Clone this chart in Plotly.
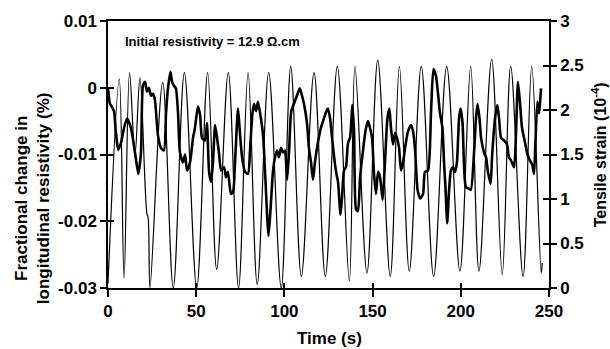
import plotly.graph_objects as go

# ---- data ----
# Thin line: tensile strain (10^-4), right axis
strain_time = [0.0, 6.4, 9.1, 12.2, 15.3, 18.1, 22.1, 22.7, 23.8, 31.0, 37.0, 43.3, 50.3,
               56.5, 61.6, 68.2, 74.0, 79.4, 84.6, 91.1, 98.2, 103.6, 109.6, 116.8, 123.2,
               130.0, 136.8, 140.0, 146.8, 152.9, 160.0, 165.2, 170.8, 177.6, 184.6, 192.0,
               199.5, 205.6, 210.3, 217.5, 223.5, 228.3, 235.3, 240.2, 245.6, 246.2]
strain_val = [0.05, 2.35, 0.11, 2.42, 1.5, 2.36, 0.83, 0.8, 0.0, 2.31, 0.0, 2.42, 0.0,
              2.42, 0.21, 2.42, 0.0, 2.42, 0.04, 2.42, 0.0, 2.49, 0.13, 2.42, 0.13,
              2.49, 0.08, 2.49, 0.17, 2.56, 0.13, 2.49, 0.19, 2.49, 0.13, 2.49,
              0.19, 2.49, 0.19, 2.57, 0.15, 2.49, 0.13, 2.49, 0.17, 0.28]

# Thick line: fractional change in longitudinal resistivity (%), left axis
res_time = [0.0, 1.1, 2.3, 3.4, 4.5, 5.8, 7.4, 9.1, 10.8, 13.0, 15.3, 17.2, 18.7, 19.8, 21.0,
            22.1, 23.2, 24.4, 25.5, 26.6, 28.3, 30.0, 31.7, 32.9, 34.0, 35.4, 36.3, 37.4,
            38.5, 39.7, 40.8, 42.5, 43.7, 44.8, 46.5, 48.2, 49.3, 51.0, 52.2, 53.3, 55.0,
            56.1, 57.3, 58.4, 59.5, 60.7, 61.8, 62.9, 64.1, 65.8, 66.9, 68.0, 69.7, 70.9,
            72.0, 73.7, 74.8, 76.0, 77.7, 79.4, 80.5, 81.9, 82.8, 83.9, 85.0, 86.7, 87.9,
            89.3, 91.0, 92.4, 93.5, 94.7, 95.8, 96.9, 98.1, 99.2, 100.3, 101.5, 102.6,
            103.9, 105.4, 107.1, 108.7, 110.0, 111.1, 112.8, 113.9, 115.1, 116.2, 117.3,
            119.0, 120.7, 122.4, 123.8, 124.7, 125.9, 127.6, 129.3, 130.4, 131.8, 132.7,
            133.8, 134.9, 136.1, 137.2, 138.6, 139.5, 140.6, 141.7, 142.9, 144.3, 145.1,
            146.3, 147.4, 148.5, 149.7, 150.8, 151.9, 153.1, 154.2, 155.7, 157.0, 158.4,
            159.5, 160.4, 161.6, 162.7, 163.8, 165.0, 166.1, 167.3, 168.4, 170.1, 171.8,
            172.9, 174.0, 175.5, 176.9, 178.6, 179.7, 181.4, 183.1, 184.5, 185.9, 187.1,
            188.2, 189.6, 190.5, 191.3, 192.3, 193.3, 194.4, 195.6, 196.7, 197.8, 199.0,
            199.9, 201.0, 201.8, 202.9, 204.6, 205.7, 207.5, 208.6, 209.5, 210.6, 211.5,
            213.2, 214.3, 215.4, 216.9, 217.7, 219.4, 220.7, 221.7, 222.8, 224.5, 226.2,
            227.3, 228.5, 230.2, 231.3, 232.4, 233.6, 234.7, 236.4, 237.8, 239.2, 240.5,
            241.5, 242.3, 243.4, 244.3, 245.5]
res_val = [0.0, -0.0024, -0.0029, -0.0035, -0.0068, -0.0093, -0.0082, -0.006, -0.0046, -0.006,
           -0.0097, -0.0129, -0.0097, 0.0003, 0.0009, -0.0006, 0.0, -0.0012, -0.0009, -0.0018,
           -0.0071, -0.009, -0.0094, -0.0038, -0.0001, 0.0024, 0.0009, 0.0003, -0.0001,
           -0.0038, -0.0097, -0.0112, -0.01, -0.0124, -0.0112, -0.0075, -0.006, -0.0028,
           -0.0041, -0.0075, -0.0079, -0.0053, -0.0126, -0.0141, -0.0112, -0.0056, -0.0075,
           -0.0097, -0.0124, -0.0119, -0.0134, -0.0126, -0.0159, -0.0156, -0.0112, -0.0031,
           -0.0068, -0.0104, -0.0126, -0.0129, -0.0094, -0.0038, -0.0024, -0.0035, -0.0021,
           -0.0046, -0.0071, -0.0141, -0.0222, -0.0171, -0.0126, -0.0104, -0.0094, -0.0104,
           -0.009, -0.0097, -0.0094, -0.0138, -0.0097, -0.0035, -0.0024, -0.0012, -0.0001,
           -0.0012, -0.0024, -0.0053, -0.009, -0.0112, -0.0138, -0.0112, -0.0082, -0.006,
           -0.0046, -0.0035, -0.0031, -0.0046, -0.009, -0.0126, -0.0141, -0.019, -0.0163,
           -0.0124, -0.0119, -0.0082, -0.0075, -0.0026, -0.0068, -0.0182, -0.0185, -0.0134,
           -0.01, -0.0082, -0.006, -0.005, -0.006, -0.0075, -0.0129, -0.0159, -0.0126,
           -0.0134, -0.0168, -0.0112, -0.0046, -0.0031, -0.006, -0.0085, -0.0068, -0.0075,
           -0.009, -0.0124, -0.0112, -0.009, -0.0065, -0.0056, -0.0065, -0.009, -0.0153,
           -0.0166, -0.0159, -0.0126, -0.0124, -0.0038, 0.0028, 0.0018, -0.0009, -0.0038,
           -0.006, -0.0112, -0.0149, -0.0203, -0.0156, -0.0124, -0.0119, -0.0126, -0.0112,
           -0.0046, -0.0031, -0.0053, -0.0115, -0.0149, -0.0151, -0.0153, -0.0097, -0.0046,
           -0.0024, -0.0046, -0.0075, -0.0097, -0.0104, -0.0126, -0.0144, -0.0104, -0.0046,
           -0.0026, -0.0046, -0.0075, -0.0079, -0.0085, -0.0104, -0.0109, -0.0119, -0.0068,
           0.0009, -0.0024, -0.006, -0.0082, -0.01, -0.0109, -0.0115, -0.0129, -0.0082,
           -0.0021, -0.0038, -0.0001]

x_ticks = [0, 50, 100, 150, 200, 250]
x_ticklabels = ["0", "50", "100", "150", "200", "250"]
left_ticks = [0.01, 0, -0.01, -0.02, -0.03]
left_ticklabels = ["0.01", "0", "-0.01", "-0.02", "-0.03"]
right_ticks = [0, 0.5, 1, 1.5, 2, 2.5, 3]
right_ticklabels = ["0", "0.5", "1", "1.5", "2", "2.5", "3"]

FONT = "Liberation Sans, Arial, Helvetica, sans-serif"
BOLD17 = dict(family=FONT, size=17, color="black", weight="bold")

fig = go.Figure()
fig.add_trace(go.Scatter(x=strain_time, y=strain_val, mode="lines", xaxis="x", yaxis="y2",
                         line=dict(color="black", width=1.2, shape="spline", smoothing=1.0),
                         showlegend=False, hoverinfo="skip"))
fig.add_trace(go.Scatter(x=res_time, y=res_val, mode="lines", xaxis="x", yaxis="y",
                         line=dict(color="black", width=2.6, shape="spline", smoothing=0.6),
                         showlegend=False, hoverinfo="skip"))
# empty traces so the inside-tick overlay axes are drawn
fig.add_trace(go.Scatter(x=[None], y=[None], xaxis="x2", yaxis="y3", showlegend=False,
                         hoverinfo="skip"))
fig.add_trace(go.Scatter(x=[None], y=[None], xaxis="x2", yaxis="y4", showlegend=False,
                         hoverinfo="skip"))

common = dict(showgrid=False, zeroline=False, tickcolor="black", tickwidth=1.5)

fig.update_layout(
    width=610, height=349,
    margin=dict(l=108, r=61, t=16, b=61),
    paper_bgcolor="white", plot_bgcolor="white",
    font=dict(family=FONT, color="black"),
    xaxis=dict(range=[0, 250], tickvals=x_ticks, ticktext=x_ticklabels, ticks="outside",
               ticklen=7, showline=True, linecolor="black", linewidth=1.5, mirror=True,
               tickfont=BOLD17, anchor="y", **common),
    xaxis2=dict(range=[0, 250], tickvals=x_ticks, ticks="inside", ticklen=5,
                showticklabels=False, showline=False, overlaying="x", anchor="y",
                side="bottom", **common),
    yaxis=dict(range=[-0.03, 0.01], tickvals=left_ticks, ticktext=left_ticklabels,
               ticks="outside", ticklen=6, showline=True, linecolor="black", linewidth=1.5,
               tickfont=BOLD17, anchor="x", **common),
    yaxis3=dict(range=[-0.03, 0.01], tickvals=left_ticks, ticks="inside", ticklen=6,
                showticklabels=False, showline=False, overlaying="y", anchor="x",
                side="left", **common),
    yaxis2=dict(range=[0, 3], tickvals=right_ticks, ticktext=right_ticklabels,
                ticks="outside", ticklen=6, showline=True, linecolor="black", linewidth=1.5,
                tickfont=BOLD17, overlaying="y", side="right", anchor="x", **common),
    yaxis4=dict(range=[0, 3], tickvals=right_ticks, ticks="inside", ticklen=6,
                showticklabels=False, showline=False, overlaying="y", side="right",
                anchor="x", **common),
)

fig.add_annotation(text="Initial resistivity = 12.9 \u03a9.cm", xref="paper", yref="paper",
                   x=0.034, y=0.923, xanchor="left", yanchor="middle", showarrow=False,
                   font=dict(family=FONT, size=13, color="black", weight="bold"))
fig.add_annotation(text="Time (s)", xref="paper", yref="paper", x=0.503, y=-0.191,
                   xanchor="center", yanchor="middle", showarrow=False, font=BOLD17)
fig.add_annotation(text="Fractional change in<br>longitudinal resistivity (%)",
                   xref="paper", yref="paper", x=-0.171, y=0.335, textangle=-90,
                   xanchor="center", yanchor="middle", showarrow=False, font=BOLD17)
fig.add_annotation(text="Tensile strain (10<sup>-4</sup>)", xref="paper", yref="paper",
                   x=1.113, y=0.5, textangle=-90, xanchor="center", yanchor="middle",
                   showarrow=False, font=dict(family=FONT, size=16, color="black",
                                              weight="bold"))

fig.write_html("out.html")
